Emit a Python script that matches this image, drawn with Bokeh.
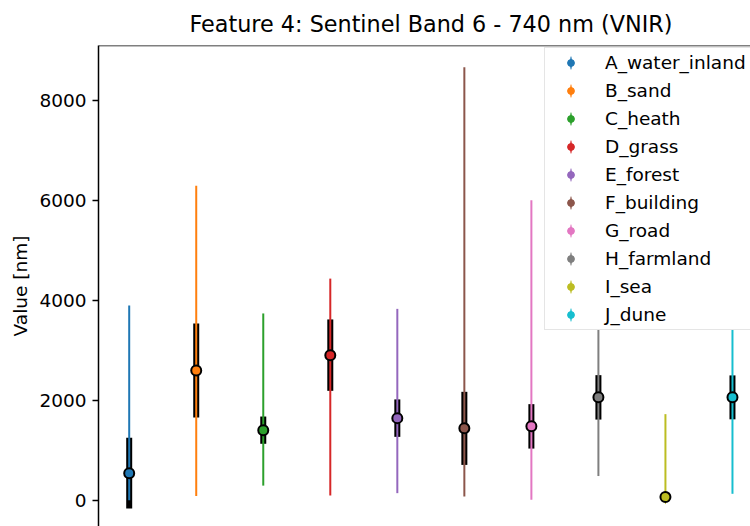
from bokeh.plotting import figure
from bokeh.models import ColumnDataSource, FixedTicker, Legend, LegendItem, Span
from bokeh.embed import file_html
from bokeh.resources import INLINE

# ---- data ----
classes = ["A_water_inland", "B_sand", "C_heath", "D_grass", "E_forest",
           "F_building", "G_road", "H_farmland", "I_sea", "J_dune"]
means = [543, 2600, 1404, 2907, 1645, 1440, 1480, 2061, 63, 2061]
stds = [708, 940, 273, 715, 375, 732, 445, 445, 40, 440]
mins = [0, 83, 293, 95, 142, 76, 10, 485, 0, 129]
maxs = [3900, 6300, 3742, 4440, 3834, 8673, 6009, 4100, 1725, 4300]
colors = ["#1f77b4", "#ff7f0e", "#2ca02c", "#d62728", "#9467bd",
          "#8c564b", "#e377c2", "#7f7f7f", "#bcbd22", "#17becf"]
y_ticks = [0, 2000, 4000, 6000, 8000]
title_text = "Feature 4: Sentinel Band 6 - 740 nm (VNIR)"
y_label = "Value [nm]"

Y_TOP = 9110
Y_BOTTOM = -526
X_START = -0.458
X_END = 9.269

xs = list(range(len(classes)))
src = ColumnDataSource(dict(
    x=xs,
    mean=means,
    lo_std=[m - s for m, s in zip(means, stds)],
    hi_std=[m + s for m, s in zip(means, stds)],
    mn=mins,
    mx=maxs,
    color=colors,
))

FONT = "DejaVu Sans"
LBL = "18.5px"

p = figure(width=750, height=526, x_range=(X_START, X_END), y_range=(Y_BOTTOM, Y_TOP),
           output_backend="svg", toolbar_location=None, x_axis_location=None,
           min_border_left=98, min_border_right=0, min_border_top=39, min_border_bottom=0,
           title=title_text)
p.grid.visible = False
p.outline_line_color = None
p.background_fill_color = "white"
p.border_fill_color = "white"

p.title.text_font = FONT
p.title.text_font_size = "22.3px"
p.title.text_font_style = "normal"
p.title.text_color = "black"
p.title.align = "left"
p.title.offset = 91
p.title.standoff = 17

ax = p.yaxis[0]
ax.ticker = FixedTicker(ticks=y_ticks)
ax.axis_line_color = "black"
ax.axis_line_width = 1.5
ax.major_tick_line_color = "black"
ax.major_tick_line_width = 1.5
ax.major_tick_out = 6
ax.major_tick_in = 0
ax.minor_tick_out = 0
ax.minor_tick_in = 0
ax.major_label_text_font = FONT
ax.major_label_text_font_size = LBL
ax.major_label_text_color = "black"
ax.major_label_standoff = 6
ax.axis_label = y_label
ax.axis_label_text_font = FONT
ax.axis_label_text_font_size = LBL
ax.axis_label_text_font_style = "normal"
ax.axis_label_text_color = "black"
ax.axis_label_standoff = 5

# top spine
p.add_layout(Span(location=Y_TOP, dimension="width", line_color="black", line_width=1.5))

# thick std bars, thin min-max lines
p.segment(x0="x", y0="lo_std", x1="x", y1="hi_std", source=src, line_color="black", line_width=6)
p.segment(x0="x", y0="mn", x1="x", y1="mx", source=src, line_color="color", line_width=2)

# legend handles: a thin vertical ellipse (hidden on the thin line) and a small dot
# (hidden under the mean marker)
items = []
for i, (name, c) in enumerate(zip(classes, colors)):
    one = ColumnDataSource(dict(x=[xs[i]], y=[means[i]]))
    bar = p.ellipse(x="x", y="y", width=0.03, height=285, source=one,
                    fill_color=c, line_color=None)
    dot = p.scatter(x="x", y="y", source=one, size=6, fill_color=c, line_color=c)
    items.append(LegendItem(label=name, renderers=[bar, dot]))

# mean markers on top
p.scatter(x="x", y="mean", source=src, size=10, fill_color="color", line_color="black", line_width=2)

legend = Legend(items=items, location=(446, 196), margin=0, padding=4,
                glyph_width=43, glyph_height=17, label_standoff=13, spacing=7,
                label_height=21, label_text_font=FONT, label_text_font_size=LBL,
                label_text_color="black", border_line_color="#cccccc", border_line_width=1.5,
                background_fill_color="white", background_fill_alpha=1.0)
p.add_layout(legend)

open("out.html", "w").write(file_html(p, INLINE))
